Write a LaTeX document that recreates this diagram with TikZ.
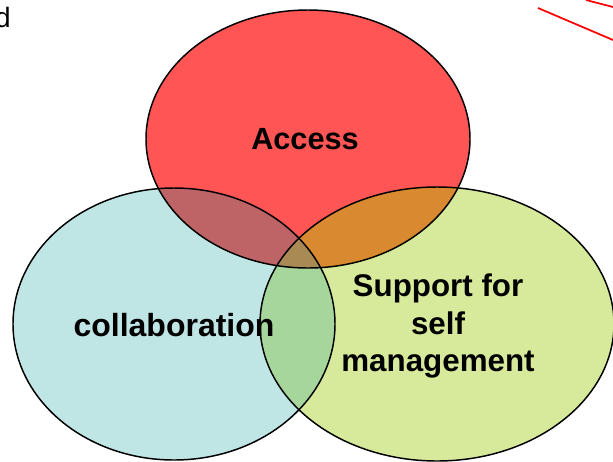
\documentclass[tikz,border=0pt]{standalone}
\usepackage{fontspec}
\setmainfont{Liberation Sans}
\usepackage{tikz}

\definecolor{accessred}{HTML}{FF5555}
\definecolor{collabblue}{HTML}{BFE5E4}
\definecolor{supportgreen}{HTML}{D7E99B}
\definecolor{redblue}{HTML}{BF6466}
\definecolor{redgreen}{HTML}{D98A30}
\definecolor{bluegreen}{HTML}{A6D69B}
\definecolor{allthree}{HTML}{A98A55}

\begin{document}
\begin{tikzpicture}[x=0.75pt,y=0.75pt,yscale=-1,xscale=1,
  label/.style={inner sep=0.75pt,align=center,font=\fontsize{23.5}{28}\selectfont\bfseries}]
\useasboundingbox (0,0) rectangle (613,461);

%Shape: Ellipse (Access)
\fill[accessred] (308,139) ellipse (162 and 129);
%Shape: Ellipse (collaboration)
\fill[collabblue] (174,324) ellipse (161 and 136);
%Shape: Ellipse (support)
\fill[supportgreen] (437,324) ellipse (177 and 137);

%Overlaps
\begin{scope}
\clip (308,139) ellipse (162 and 129);
\fill[redblue] (174,324) ellipse (161 and 136);
\fill[redgreen] (437,324) ellipse (177 and 137);
\end{scope}
\begin{scope}
\clip (174,324) ellipse (161 and 136);
\fill[bluegreen] (437,324) ellipse (177 and 137);
\clip (437,324) ellipse (177 and 137);
\fill[allthree] (308,139) ellipse (162 and 129);
\end{scope}

%Outlines
\draw[line width=1.1] (308,139) ellipse (162 and 129);
\draw[line width=1.1] (174,324) ellipse (161 and 136);
\draw[line width=1.1] (437,324) ellipse (177 and 137);

%Straight Lines
\draw[red,line width=1.3] (538,8) -- (613,40);
%Straight Lines
\draw[red,line width=1.3] (586,0) -- (613,7);

% Text Node
\node[label,font=\fontsize{23}{28}\selectfont\bfseries] (access) at (305,139) {Access};
% Text Node
\node[label,font=\fontsize{24}{28}\selectfont\bfseries] (collab) at (174,325) {collaboration};
% Text Node
\node[label] (support) at (438,326) {Support for\\self\\management};
% Text Node
\node[anchor=base east,inner sep=0pt,font=\fontsize{21}{25}\selectfont] (cut) at (11,27.5) {d};

\end{tikzpicture}
\end{document}
